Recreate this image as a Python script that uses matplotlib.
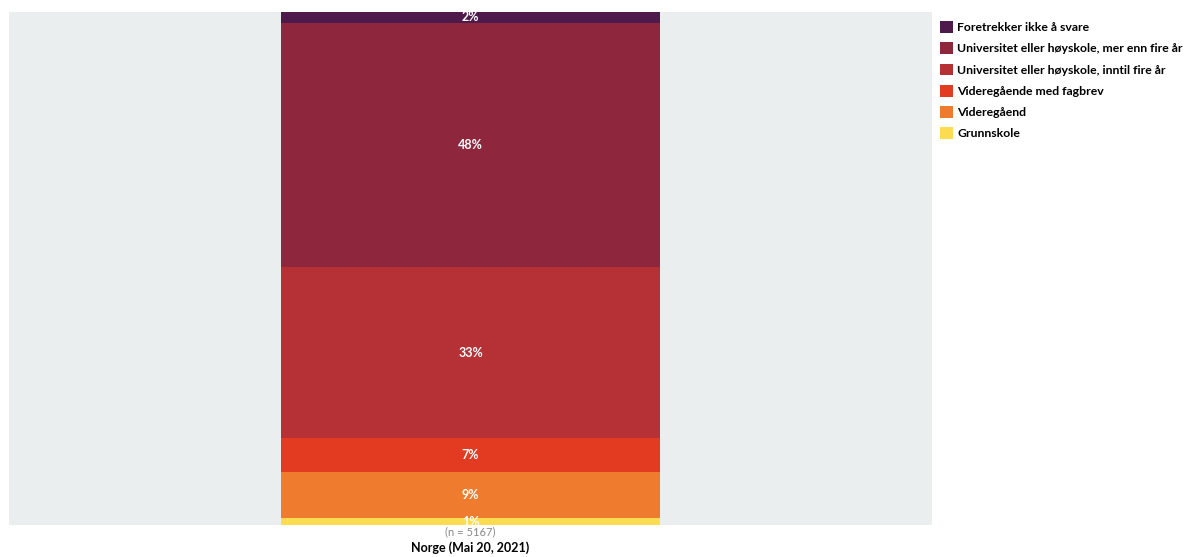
import matplotlib
matplotlib.use("Agg")
import matplotlib.pyplot as plt

categories = ["Norge (Mai 20, 2021)"]
n_label = "(n = 5167)"
series = ["Grunnskole", "Videregåend", "Videregående med fagbrev",
          "Universitet eller høyskole, inntil fire år",
          "Universitet eller høyskole, mer enn fire år",
          "Foretrekker ikke å svare"]
values = [1.3, 9.0, 6.6, 33.4, 47.6, 2.1]
labels = ["1%", "9%", "7%", "33%", "48%", "2%"]
colors = ["#fddc4f", "#ef7b2f", "#e23b22", "#b63135", "#8e273e", "#4e1a4b"]

plt.rcParams['font.family'] = ['Lato', 'DejaVu Sans']
fig = plt.figure(figsize=(11.84, 5.57), dpi=100)
W, H = 1184, 557
ax = fig.add_axes([9 / W, (H - 525) / H, (932 - 9) / W, (525 - 12) / H])
ax.set_facecolor("#ebeeef")

bottom = 0
handles = []
for name, v, lab, c in zip(series, values, labels, colors):
    b = ax.bar(categories, [v], bottom=bottom, width=0.41, color=c, label=name, linewidth=0)
    handles.append(b)
    ax.text(0, bottom + v / 2, lab, ha="center", va="center", color="white",
            fontsize=9, fontweight="bold")
    bottom += v

ax.set_xlim(-0.5, 0.5)
ax.set_ylim(0, bottom)
ax.set_yticks([])
for s in ax.spines.values():
    s.set_visible(False)
ax.tick_params(axis="x", length=0, pad=12, labelsize=9)
for t in ax.get_xticklabels():
    t.set_fontweight("bold")
ax.text(0, -0.003, n_label, transform=ax.get_xaxis_transform(), ha="center", va="top",
        fontsize=8, color="#888888")

leg = fig.legend(handles[::-1], series[::-1], loc="upper left",
                 bbox_to_anchor=(935 / W, (H - 16) / H), frameon=False,
                 prop={"weight": "bold", "size": 8.8}, handlelength=1.05, handleheight=1.1,
                 handletextpad=0.35, labelspacing=0.76, borderaxespad=0)

fig.savefig("out.png", dpi=100)
